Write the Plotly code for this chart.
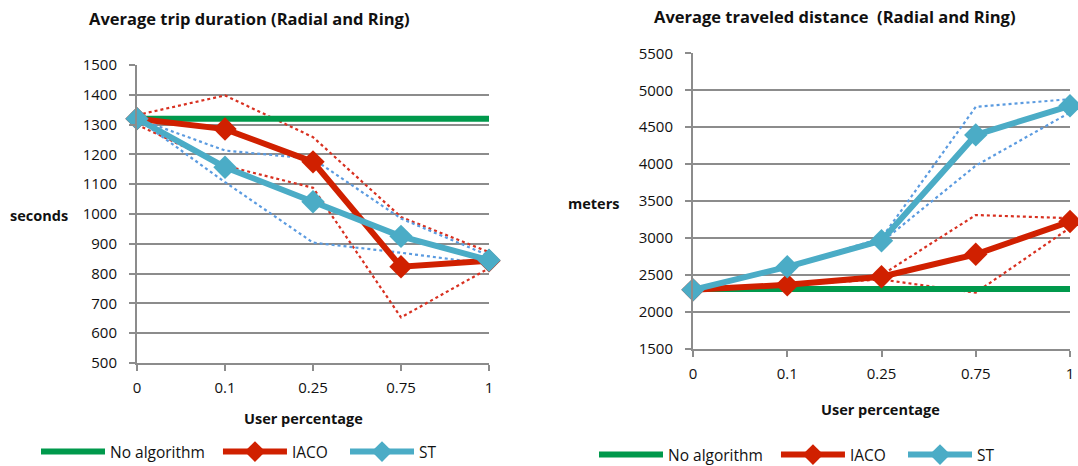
import plotly.graph_objects as go

categories = ["0", "0.1", "0.25", "0.75", "1"]

# Left chart: Average trip duration (seconds)
dur_noalg = [1320, 1320, 1320, 1320, 1320]
dur_iaco = [1320, 1285, 1175, 823, 843]
dur_iaco_hi = [1332, 1398, 1258, 990, 872]
dur_iaco_lo = [1300, 1162, 1088, 653, 818]
dur_st = [1320, 1157, 1041, 925, 845]
dur_st_hi = [1320, 1213, 1185, 985, 860]
dur_st_lo = [1320, 1107, 904, 870, 832]

# Right chart: Average traveled distance (meters)
dist_noalg = [2310, 2310, 2310, 2310, 2310]
dist_iaco = [2300, 2368, 2478, 2781, 3225]
dist_iaco_hi = [2300, 2368, 2500, 3312, 3270]
dist_iaco_lo = [2300, 2368, 2440, 2262, 3140]
dist_st = [2300, 2612, 2965, 4396, 4790]
dist_st_hi = [2300, 2612, 3000, 4775, 4880]
dist_st_lo = [2300, 2612, 2945, 3980, 4700]

dur_ticks = [500, 600, 700, 800, 900, 1000, 1100, 1200, 1300, 1400, 1500]
dist_ticks = [1500, 2000, 2500, 3000, 3500, 4000, 4500, 5000, 5500]

series_names = ["No algorithm", "IACO", "ST"]

GREEN = "#00994C"
RED = "#D02000"
BLUE = "#4BACC6"
BLUE_DOT = "#5B9BE0"
RED_DOT = "#D83020"
GRID = "#8C8C8C"
FONT = "Open Sans"
TXT = "#111111"

xi = list(range(len(categories)))

fig = go.Figure()

# legend label padding (non-breaking spaces) to mimic the wider spacing between legend entries
pad = ["\u00a0\u00a0", "\u00a0\u00a0\u00a0", ""]


def add_chart(xa, ya, legend, noalg, iaco, iaco_hi, iaco_lo, st, st_hi, st_lo):
    common = dict(xaxis=xa, yaxis=ya, x=xi, cliponaxis=False)
    for vals, col in ((iaco_hi, RED_DOT), (iaco_lo, RED_DOT), (st_hi, BLUE_DOT), (st_lo, BLUE_DOT)):
        fig.add_trace(go.Scatter(y=vals, mode="lines", line=dict(color=col, width=2.2, dash="dot"),
                                 showlegend=False, hoverinfo="skip", **common))
    fig.add_trace(go.Scatter(y=noalg, name=series_names[0] + pad[0], mode="lines", legend=legend,
                             line=dict(color=GREEN, width=6), **common))
    fig.add_trace(go.Scatter(y=iaco, name=series_names[1] + pad[1], mode="lines+markers", legend=legend,
                             line=dict(color=RED, width=6),
                             marker=dict(symbol="diamond", size=18, color=RED), **common))
    fig.add_trace(go.Scatter(y=st, name=series_names[2] + pad[2], mode="lines+markers", legend=legend,
                             line=dict(color=BLUE, width=6),
                             marker=dict(symbol="diamond", size=18, color=BLUE), **common))


add_chart("x", "y", "legend", dur_noalg, dur_iaco, dur_iaco_hi, dur_iaco_lo, dur_st, dur_st_hi, dur_st_lo)
add_chart("x2", "y2", "legend2", dist_noalg, dist_iaco, dist_iaco_hi, dist_iaco_lo, dist_st, dist_st_hi, dist_st_lo)

W, H = 1078, 466

xcommon = dict(tickmode="array", tickvals=xi, ticktext=categories, range=[0, 4],
               showgrid=False, zeroline=False, showline=True, linecolor=GRID, linewidth=2,
               ticks="outside", ticklen=6, tickcolor=GRID, tickwidth=2, automargin=False,
               tickfont=dict(family=FONT, size=15, color=TXT), ticklabelstandoff=4)
ycommon = dict(showgrid=True, gridcolor=GRID, gridwidth=2, zeroline=False,
               showline=True, linecolor=GRID, linewidth=2, automargin=False,
               ticks="outside", ticklen=6, tickcolor=GRID, tickwidth=2,
               tickfont=dict(family=FONT, size=15, color=TXT), ticklabelstandoff=9)

legcommon = dict(orientation="h", xanchor="left", yanchor="middle",
                 font=dict(family=FONT, size=15.5, color=TXT), itemwidth=64,
                 bgcolor="rgba(0,0,0,0)", tracegroupgap=0)


def ann(text, x, y, size):
    return dict(text=text, x=x / W, y=1 - y / H, xref="paper", yref="paper",
                xanchor="center", yanchor="middle", showarrow=False,
                font=dict(family=FONT, size=size, color=TXT))


fig.update_layout(
    width=W, height=H,
    margin=dict(l=0, r=0, t=0, b=0, autoexpand=False),
    paper_bgcolor="white", plot_bgcolor="white",
    font=dict(family=FONT, color=TXT),
    xaxis=dict(domain=[137 / W, 489 / W], anchor="y", **xcommon),
    yaxis=dict(domain=[1 - 363 / H, 1 - 65 / H], anchor="x", range=[500, 1500],
               tickvals=dur_ticks, **ycommon),
    xaxis2=dict(domain=[693 / W, 1070 / W], anchor="y2", **xcommon),
    yaxis2=dict(domain=[1 - 349 / H, 1 - 53.3 / H], anchor="x2", range=[1500, 5500],
                tickvals=dist_ticks, **ycommon),
    legend=dict(x=36 / W, y=1 - 452 / H, **legcommon),
    legend2=dict(x=594 / W, y=1 - 455 / H, **legcommon),
    annotations=[
        ann("<b>Average trip duration (Radial and Ring)</b>", 249, 18, 16.5),
        ann("<b>Average traveled distance  (Radial and Ring)</b>", 835, 16, 16.5),
        ann("<b>seconds</b>", 39, 215, 14.5),
        ann("<b>meters</b>", 593, 204, 14.5),
        ann("<b>User percentage</b>", 303, 418, 14.5),
        ann("<b>User percentage</b>", 880, 409, 14.5),
    ],
)

fig.write_html("out.html", config={"displayModeBar": False},
               post_script="document.body.style.margin='0';")
